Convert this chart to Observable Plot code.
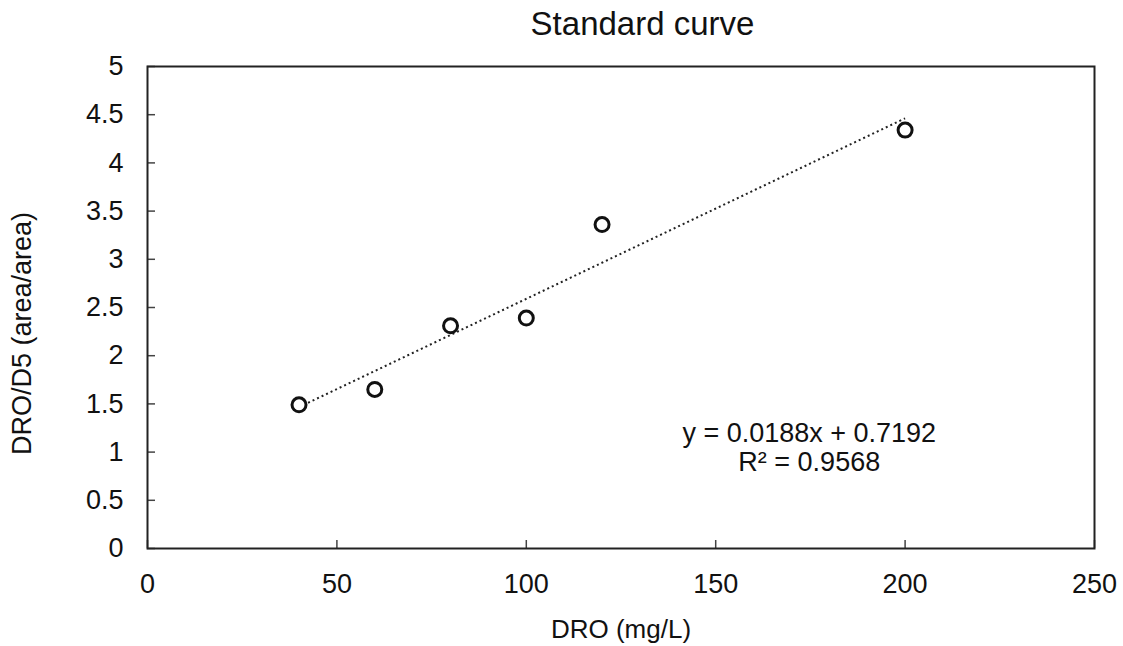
<!DOCTYPE html>
<html>
<head>
<meta charset="utf-8">
<script src="https://cdn.jsdelivr.net/npm/d3@7"></script>
<script src="https://cdn.jsdelivr.net/npm/@observablehq/plot@0.6"></script>
<style>
  body { margin: 0; background: #fff; font-family: "Liberation Sans", Arial, sans-serif; }
  #title { height: 52px; line-height: 48px; font-size: 33px; color: #111; text-align: center; padding-left: 162px; white-space: nowrap; }
</style>
</head>
<body>
<div id="title">Standard curve</div>
<div id="chart"></div>
<script>
const concentration = [40, 60, 80, 100, 120, 200];
const ratio = [1.49, 1.65, 2.31, 2.39, 3.36, 4.34];
const xTicks = [0, 50, 100, 150, 200, 250];
const yTicks = [0, 0.5, 1, 1.5, 2, 2.5, 3, 3.5, 4, 4.5, 5];
const equationText = "y = 0.0188x + 0.7192\nR² = 0.9568";
const xLabel = "DRO (mg/L)";
const yLabel = "DRO/D5 (area/area)";

const data = concentration.map((x, i) => ({x, y: ratio[i]}));

const W = 1123, H = 594;
const mL = 147, mR = 29, mT = 14, mB = 98;
const innerW = W - mL - mR, innerH = H - mT - mB;

const chart = Plot.plot({
  width: W,
  height: H,
  marginLeft: mL,
  marginRight: mR,
  marginTop: mT,
  marginBottom: mB,
  style: {fontFamily: "'Liberation Sans', Arial, sans-serif", fontSize: "26px", color: "#111", background: "#fff"},
  x: {domain: [0, 250]},
  y: {domain: [0, 5]},
  marks: [
    Plot.tickY(yTicks, {y: d => d, stroke: "#444", strokeWidth: 1.5, insetRight: innerW - 8}),
    Plot.tickX(xTicks, {x: d => d, stroke: "#444", strokeWidth: 1.5, insetTop: innerH - 8}),
    Plot.axisY({ticks: yTicks, tickSize: 0, tickPadding: 24, tickFormat: d => String(d), label: null, fontSize: 27}),
    Plot.axisX({ticks: xTicks, tickSize: 0, tickPadding: 25, tickFormat: d => String(d), label: null, fontSize: 27}),
    Plot.frame({stroke: "#222", strokeWidth: 2}),
    Plot.linearRegressionY(data, {x: "x", y: "y", ci: 0, stroke: "#222", strokeWidth: 2, strokeDasharray: "2,3", strokeLinecap: "butt"}),
    Plot.dot(data, {x: "x", y: "y", r: 7, stroke: "#111", strokeWidth: 3, fill: "#fff"}),
    Plot.text([equationText], {x: 174.7, y: 1.05, text: d => d, fontSize: 27, lineHeight: 1.07, textAnchor: "middle", lineAnchor: "middle", fill: "#111"}),
    Plot.text([xLabel], {frameAnchor: "bottom", dy: 81, text: d => d, fontSize: 26, textAnchor: "middle", lineAnchor: "middle", fill: "#111"}),
    Plot.text([yLabel], {frameAnchor: "left", dx: -125, dy: 26, rotate: -90, text: d => d, fontSize: 27, textAnchor: "middle", lineAnchor: "middle", fill: "#111"})
  ]
});
document.getElementById("chart").appendChild(chart);
</script>
</body>
</html>
